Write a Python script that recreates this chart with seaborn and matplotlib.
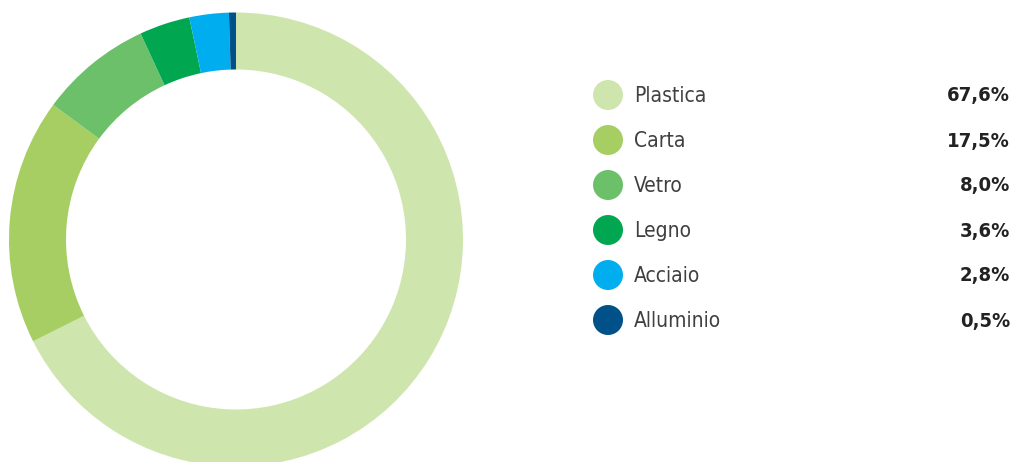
import matplotlib
matplotlib.use("Agg")
import matplotlib.pyplot as plt
import seaborn as sns
import pandas as pd

categories = ["Plastica", "Carta", "Vetro", "Legno", "Acciaio", "Alluminio"]
shares = [67.6, 17.5, 8.0, 3.6, 2.8, 0.5]
value_labels = ["67,6%", "17,5%", "8,0%", "3,6%", "2,8%", "0,5%"]
colors = ["#CFE5AE", "#A6CE63", "#6CC06A", "#00A650", "#00AEEF", "#00508A"]

sns.set_theme(style="white")
plt.rcParams["font.family"] = ["DejaVu Sans"]

W, H = 1022, 462
fig = plt.figure(figsize=(W / 100, H / 100), dpi=100)
fig.patch.set_facecolor("white")

# Donut: centre (236, 239.5) px from top-left, outer radius 227 px
cx, cy, r_out, r_in = 236, 239.5, 227, 170
ax = fig.add_axes([(cx - r_out) / W, (H - cy - r_out) / H, 2 * r_out / W, 2 * r_out / H])
ax.pie(shares, colors=colors, startangle=90, counterclock=False, radius=1,
       wedgeprops=dict(width=1 - r_in / r_out, linewidth=0))
ax.set_xlim(-1, 1)
ax.set_ylim(-1, 1)
ax.set_aspect("equal")
ax.axis("off")

# Legend drawn in pixel coordinates
lax = fig.add_axes([0, 0, 1, 1])
rows = pd.DataFrame({
    "x": [608] * len(categories),
    "y": [95 + 45 * i for i in range(len(categories))],
    "cat": categories,
})
sns.scatterplot(data=rows, x="x", y="y", hue="cat", palette=dict(zip(categories, colors)),
                s=(30 * 0.72) ** 2, linewidth=0, legend=False, ax=lax)
lax.set_xlim(0, W)
lax.set_ylim(H, 0)
lax.axis("off")
for y, name, val in zip(rows["y"], categories, value_labels):
    lax.text(634, y + 1, name, ha="left", va="center", fontsize=15, color="#404040",
             fontstretch="condensed", fontweight="light")
    lax.text(1010, y + 1, val, ha="right", va="center", fontsize=14.5, color="#222222",
             fontstretch="condensed", fontweight="bold")

fig.savefig("out.png", dpi=100, facecolor="white")
